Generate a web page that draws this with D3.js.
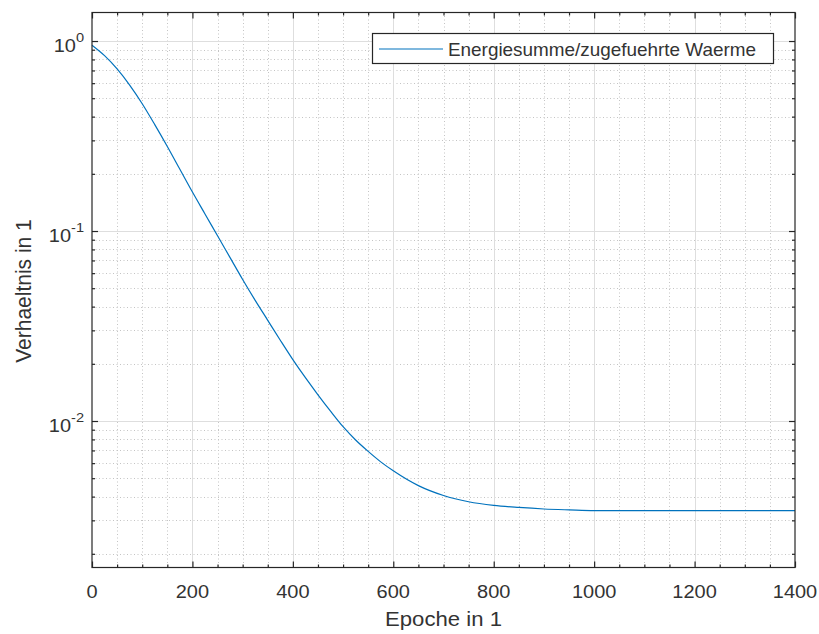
<!DOCTYPE html>
<html>
<head>
<meta charset="utf-8">
<script src="https://cdn.jsdelivr.net/npm/d3@7"></script>
<style>
  html, body { margin: 0; padding: 0; background: #ffffff; }
  svg { display: block; }
  text { font-family: "Liberation Sans", Arial, Helvetica, sans-serif; fill: #333333; }
</style>
</head>
<body>
<svg id="chart" width="819" height="634"></svg>
<script>
// ---- data ----
const epochs = [0, 25, 50, 75, 100, 125, 150, 175, 200, 225, 250, 275, 300, 325, 350, 375, 400, 425, 450, 475, 500, 525, 550, 575, 600, 650, 700, 750, 800, 850, 900, 950, 1000, 1200, 1400];
const ratio  = [0.9506, 0.8375, 0.7129, 0.5861, 0.4677, 0.3631, 0.2786, 0.2113, 0.1603, 0.1230, 0.09441, 0.07244, 0.05559, 0.04315, 0.03388, 0.02661, 0.02104, 0.01690, 0.01374, 0.01127, 0.009333, 0.007943, 0.006918, 0.006095, 0.005470, 0.004571, 0.004055, 0.003758, 0.003597, 0.003508, 0.003443, 0.003404, 0.003373, 0.003373, 0.003373];
const xTicks = [0, 200, 400, 600, 800, 1000, 1200, 1400];
const yTickExps = [0, -1, -2];
const seriesName = "Energiesumme/zugefuehrte Waerme";
const xLabel = "Epoche in 1";
const yLabel = "Verhaeltnis in 1";

// ---- layout ----
const L = 92, R = 795, T = 12.5, B = 567.5;
const lineColor = "#0072BD";
const axisColor = "#262626";
const sx = 1.08; // horizontal text stretch

const svg = d3.select("#chart");
const x = d3.scaleLinear().domain([0, 1400]).range([L, R]);
const y = d3.scaleLog().domain([0.001694, 1.413]).range([B, T]);

// grid: minor
const xMinor = d3.range(0, 1401, 50).filter(v => v % 200 !== 0);
const yMinor = [];
for (let d = -3; d <= 0; d++) for (let k = 2; k <= 9; k++) {
  const v = k * Math.pow(10, d);
  if (v > y.domain()[0] && v < y.domain()[1]) yMinor.push(v);
}
const grid = svg.append("g");
grid.selectAll(".xminor").data(xMinor).join("line")
  .attr("x1", d => Math.round(x(d)) + 0.5).attr("x2", d => Math.round(x(d)) + 0.5)
  .attr("y1", T).attr("y2", B)
  .attr("stroke", "#c4c4c4").attr("stroke-width", 1).attr("stroke-dasharray", "1,2.5");
grid.selectAll(".yminor").data(yMinor).join("line")
  .attr("y1", d => Math.round(y(d)) + 0.5).attr("y2", d => Math.round(y(d)) + 0.5)
  .attr("x1", L).attr("x2", R)
  .attr("stroke", "#c4c4c4").attr("stroke-width", 1).attr("stroke-dasharray", "1,2.5");
// grid: major
grid.selectAll(".xmajor").data(xTicks.slice(1, -1)).join("line")
  .attr("x1", d => Math.round(x(d)) + 0.5).attr("x2", d => Math.round(x(d)) + 0.5)
  .attr("y1", T).attr("y2", B)
  .attr("stroke", "#dedede").attr("stroke-width", 1);
grid.selectAll(".ymajor").data(yTickExps.map(e => Math.pow(10, e))).join("line")
  .attr("y1", d => Math.round(y(d)) + 0.5).attr("y2", d => Math.round(y(d)) + 0.5)
  .attr("x1", L).attr("x2", R)
  .attr("stroke", "#dedede").attr("stroke-width", 1);

// data line
const line = d3.line()
  .x((d, i) => x(epochs[i]))
  .y(d => y(d))
  .curve(d3.curveMonotoneX);
svg.append("path").datum(ratio)
  .attr("d", line)
  .attr("fill", "none")
  .attr("stroke", lineColor)
  .attr("stroke-width", 1.2);

// axes using d3 axis generators (ticks inward)
const fmt = () => "";
const axB = svg.append("g").attr("transform", `translate(0,${B})`)
  .call(d3.axisBottom(x).tickValues(xTicks).tickSizeInner(-6).tickSizeOuter(0).tickFormat(fmt));
const axT = svg.append("g").attr("transform", `translate(0,${T})`)
  .call(d3.axisTop(x).tickValues(xTicks).tickSizeInner(-6).tickSizeOuter(0).tickFormat(fmt));
const axBm = svg.append("g").attr("transform", `translate(0,${B})`)
  .call(d3.axisBottom(x).tickValues(xMinor).tickSizeInner(-3).tickSizeOuter(0).tickFormat(fmt));
const axTm = svg.append("g").attr("transform", `translate(0,${T})`)
  .call(d3.axisTop(x).tickValues(xMinor).tickSizeInner(-3).tickSizeOuter(0).tickFormat(fmt));
const yMaj = yTickExps.map(e => Math.pow(10, e));
const axL = svg.append("g").attr("transform", `translate(${L},0)`)
  .call(d3.axisLeft(y).tickValues(yMaj).tickSizeInner(-6).tickSizeOuter(0).tickFormat(fmt));
const axR = svg.append("g").attr("transform", `translate(${R},0)`)
  .call(d3.axisRight(y).tickValues(yMaj).tickSizeInner(-6).tickSizeOuter(0).tickFormat(fmt));
const axLm = svg.append("g").attr("transform", `translate(${L},0)`)
  .call(d3.axisLeft(y).tickValues(yMinor).tickSizeInner(-3).tickSizeOuter(0).tickFormat(fmt));
const axRm = svg.append("g").attr("transform", `translate(${R},0)`)
  .call(d3.axisRight(y).tickValues(yMinor).tickSizeInner(-3).tickSizeOuter(0).tickFormat(fmt));
[axB, axT, axBm, axTm, axL, axR, axLm, axRm].forEach(g => {
  g.select(".domain").remove();
  g.selectAll("line").attr("stroke", axisColor).attr("stroke-width", 1.2);
});

// box
svg.append("rect").attr("x", L).attr("y", T).attr("width", R - L).attr("height", B - T)
  .attr("fill", "none").attr("stroke", axisColor).attr("stroke-width", 1.2);

// x tick labels
svg.append("g").selectAll("text").data(xTicks).join("text")
  .attr("transform", d => `translate(${x(d)},598) scale(${sx},1)`)
  .attr("text-anchor", "middle")
  .attr("font-size", 18.5)
  .text(d => d);

// y tick labels (10^e)
const yl = svg.append("g").selectAll("text").data(yTickExps).join("text")
  .attr("transform", d => `translate(84,${y(Math.pow(10, d)) + 10.7}) scale(${sx},1)`)
  .attr("text-anchor", "end");
yl.append("tspan").attr("font-size", 18.5).text("10");
yl.append("tspan").attr("font-size", 13.5).attr("dy", -10).text(d => d);

// axis labels
svg.append("text")
  .attr("transform", `translate(${(L + R) / 2},626) scale(${sx},1)`)
  .attr("text-anchor", "middle").attr("font-size", 20.5)
  .text(xLabel);
svg.append("text")
  .attr("transform", `translate(31,291) rotate(-90) scale(1,${sx})`)
  .attr("text-anchor", "middle").attr("font-size", 21)
  .text(yLabel);

// legend
const lg = svg.append("g");
lg.append("rect").attr("x", 372.5).attr("y", 33.5).attr("width", 401).attr("height", 30)
  .attr("fill", "#ffffff").attr("stroke", axisColor).attr("stroke-width", 1.2);
lg.append("line").attr("x1", 379).attr("x2", 443).attr("y1", 49).attr("y2", 49)
  .attr("stroke", lineColor).attr("stroke-width", 1.2);
lg.append("text").attr("transform", `translate(448,56) scale(${sx},1)`)
  .attr("font-size", 17.5).text(seriesName);
</script>
</body>
</html>
